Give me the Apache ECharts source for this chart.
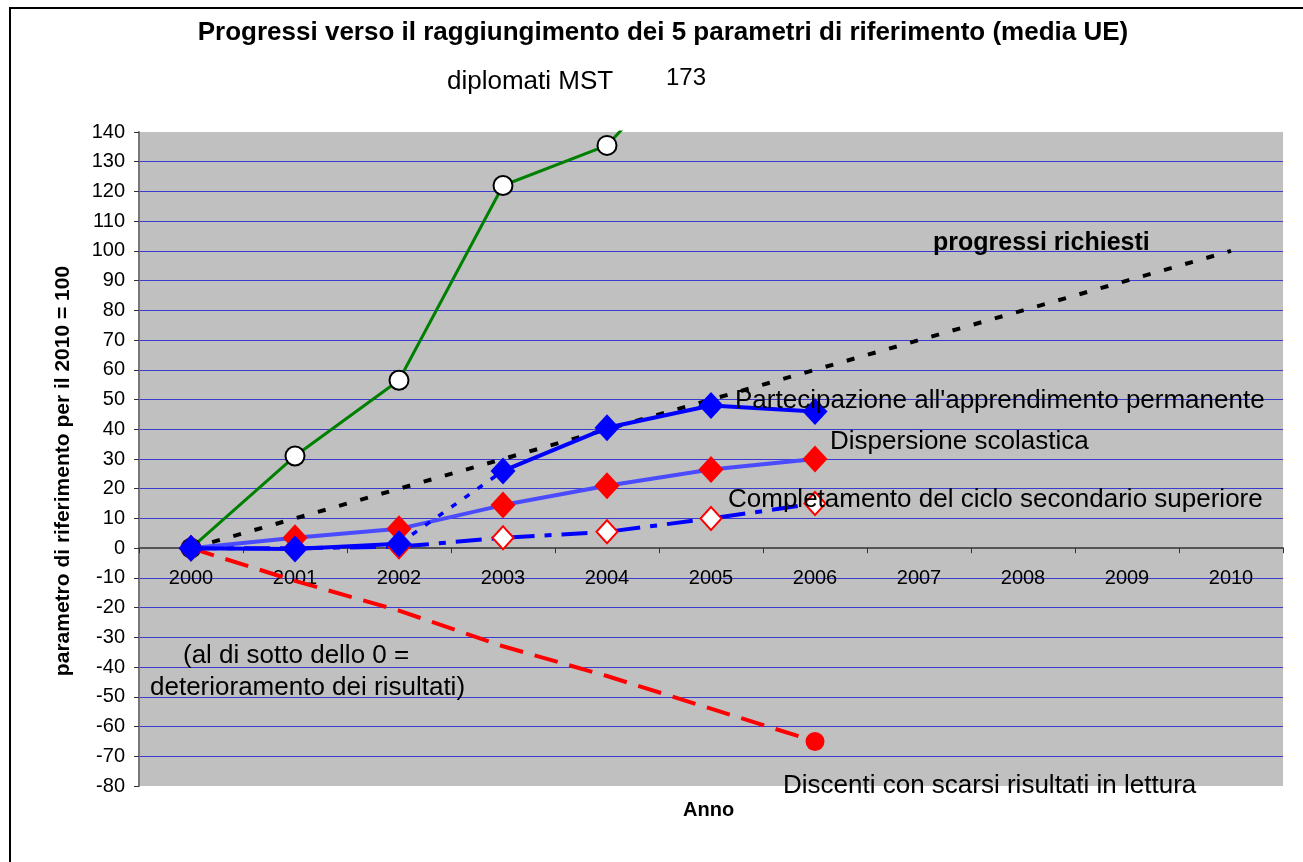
<!DOCTYPE html>
<html lang="it">
  <head>
    <meta charset="UTF-8" />
    <meta name="viewport" content="width=device-width, initial-scale=1.0" />
    <script src="https://cdn.jsdelivr.net/npm/echarts@6/dist/echarts.min.js"></script>
    <title>Progressi parametri di riferimento</title>
    <style>
      html, body { margin: 0; padding: 0; background: #fff; }
      #main { width: 1303px; height: 862px; }
    </style>
  </head>
  <body>
    <div id="main"></div>
    <script>
      // anni sull'asse x
      const anni = ["2000", "2001", "2002", "2003", "2004", "2005", "2006", "2007", "2008", "2009", "2010"];
      // serie (2010 = 100)
      const diplomatiMST = [0, 31, 56.5, 122, 135.5, 173];
      const partecipazione = [0, -0.3, 1.5, 26, 40.5, 48, 46];
      const dispersione = [0, 3.5, 6.5, 14.5, 21, 26.5, 30];
      const completamento = [0, 0, 0.5, 3.5, 5.5, 10, 15];
      const lettura = [0, -11, -21, -33, -43, -54, -65];
      const progressiRichiesti = [0, 10, 20, 30, 40, 50, 60, 70, 80, 90, 100];

      // partecipazione: tratto punteggiato tra 2002 e 2003
      const partSolidA = partecipazione.map((v, i) => (i <= 2 ? v : "-"));
      const partSolidB = partecipazione.map((v, i) => (i >= 3 ? v : "-"));
      const partDotted = partecipazione.map((v, i) => (i === 2 || i === 3 ? v : "-"));

      const font = "Liberation Sans, Arial, sans-serif";
      const chart = echarts.init(document.getElementById("main"));

      // posizione verticale dello zero nel grafico (asse x che passa per lo 0)
      const gridTop = 132, gridBottom = 76, yMin = -80, yMax = 140;
      const plotH = 862 - gridTop - gridBottom;
      const zeroFromBottom = plotH * (0 - yMin) / (yMax - yMin);

      function nota(testo, x, y, size, bold) {
        return {
          type: "text",
          x: x,
          y: y,
          z: 100,
          style: {
            text: testo,
            font: (bold ? "bold " : "") + size + "px " + font,
            fill: "#000",
            textVerticalAlign: "middle",
          },
        };
      }

      chart.setOption({
        animation: false,
        textStyle: { fontFamily: font },
        grid: { left: 139, top: gridTop, right: 20, bottom: gridBottom, show: true, backgroundColor: "#c0c0c0", borderWidth: 0 },
        xAxis: {
          type: "category",
          data: anni,
          boundaryGap: true,
          offset: -zeroFromBottom,
          axisLine: { onZero: false, lineStyle: { color: "#555", width: 2 } },
          axisTick: { show: true, length: 5, lineStyle: { color: "#333" } },
          axisLabel: { fontSize: 20, color: "#000", margin: 20 },
          splitLine: { show: false },
        },
        yAxis: {
          type: "value",
          min: yMin,
          max: yMax,
          interval: 10,
          axisLine: { show: true, lineStyle: { color: "#777", width: 2 } },
          axisTick: { show: true, length: 5, lineStyle: { color: "#333" } },
          axisLabel: { fontSize: 20, color: "#000", margin: 14 },
          splitLine: { show: true, showMinLine: false, showMaxLine: false, lineStyle: { color: "#3b3bd0", width: 1 } },
        },
        series: [
          {
            name: "progressi richiesti",
            type: "line",
            data: progressiRichiesti,
            symbol: "none",
            lineStyle: { color: "#000", width: 4, type: [8, 14] },
            z: 2,
          },
          {
            name: "diplomati MST",
            type: "line",
            data: diplomatiMST,
            symbol: "circle",
            symbolSize: 19,
            itemStyle: { color: "#fff", borderColor: "#000", borderWidth: 2 },
            lineStyle: { color: "#008000", width: 3 },
            z: 3,
          },
          {
            name: "Discenti con scarsi risultati in lettura",
            type: "line",
            data: lettura,
            symbol: (v, p) => (p.dataIndex === lettura.length - 1 ? "circle" : "none"),
            symbolSize: 19,
            itemStyle: { color: "#ff0000" },
            lineStyle: { color: "#ff0000", width: 4, type: [24, 12] },
            z: 4,
          },
          {
            name: "Completamento del ciclo secondario superiore",
            type: "line",
            data: completamento,
            symbol: "diamond",
            symbolSize: [21, 23],
            itemStyle: { color: "#fff", borderColor: "#ff0000", borderWidth: 2 },
            lineStyle: { color: "#0000ff", width: 4, type: [26, 10, 7, 10] },
            z: 5,
          },
          {
            name: "Dispersione scolastica",
            type: "line",
            data: dispersione,
            symbol: "diamond",
            symbolSize: [25, 27],
            itemStyle: { color: "#ff0000" },
            lineStyle: { color: "#4a4aff", width: 4 },
            z: 6,
          },
          {
            name: "Partecipazione tratto punteggiato",
            type: "line",
            data: partDotted,
            symbol: "none",
            lineStyle: { color: "#0000ff", width: 3.5, type: [6, 10] },
            z: 7,
          },
          {
            name: "Partecipazione A",
            type: "line",
            data: partSolidA,
            symbol: "diamond",
            symbolSize: [25, 27],
            itemStyle: { color: "#0000ff" },
            lineStyle: { color: "#0000ff", width: 4 },
            z: 8,
          },
          {
            name: "Partecipazione B",
            type: "line",
            data: partSolidB,
            symbol: "diamond",
            symbolSize: [25, 27],
            itemStyle: { color: "#0000ff" },
            lineStyle: { color: "#0000ff", width: 4 },
            z: 8,
          },
        ],
        graphic: [
          {
            type: "rect",
            shape: { x: 10, y: 8, width: 1310, height: 880 },
            style: { fill: "none", stroke: "#000", lineWidth: 2 },
            silent: true,
            z: 100,
          },
          {
            type: "text",
            x: 663,
            y: 33,
            z: 100,
            style: {
              text: "Progressi verso il raggiungimento dei 5 parametri di riferimento (media UE)",
              font: "bold 26px " + font,
              fill: "#000",
              textAlign: "center",
              textVerticalAlign: "middle",
            },
          },
          {
            type: "text",
            x: 63,
            y: 471,
            rotation: Math.PI / 2,
            z: 100,
            style: {
              text: "parametro di riferimento per il 2010 = 100",
              font: "bold 21px " + font,
              fill: "#000",
              textAlign: "center",
              textVerticalAlign: "middle",
            },
          },
          nota("diplomati MST", 447, 82, 26, false),
          nota("173", 666, 78, 24, false),
          nota("progressi richiesti", 933, 243, 25, true),
          nota("Partecipazione all'apprendimento permanente", 735, 401, 26, false),
          nota("Dispersione scolastica", 830, 442, 26, false),
          nota("Completamento del ciclo secondario superiore", 728, 500, 26, false),
          nota("Discenti con scarsi risultati in lettura", 783, 786, 26, false),
          nota("(al di sotto dello 0 =", 183, 656, 26, false),
          nota("deterioramento dei risultati)", 150, 688, 26, false),
          nota("Anno", 683, 810, 20, true),
        ],
      });
    </script>
  </body>
</html>
